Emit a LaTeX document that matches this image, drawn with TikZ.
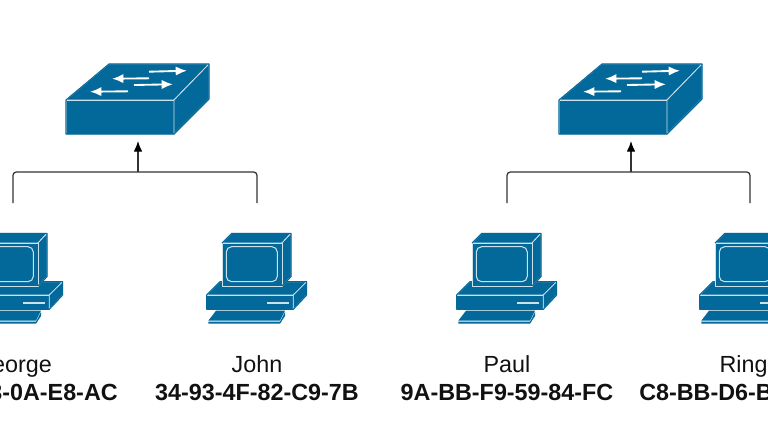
\documentclass[tikz,border=0pt]{standalone}
\usepackage{fontspec}
\setmainfont{Liberation Sans}
\usetikzlibrary{arrows.meta}

\begin{document}
\begin{tikzpicture}[x=0.75pt,y=-0.75pt,
  edgeline/.style={draw=white!80!ciscoblue,line width=0.6pt,line join=round},
  face/.style={fill=ciscoblue,edgeline},
  wire/.style={draw=wire,line width=0.95pt,rounded corners=2.5pt},
  namelabel/.style={font=\fontsize{17.5}{20}\selectfont,text=textblack,anchor=base,inner sep=0pt},
  maclabel/.style={font=\fontsize{17.5}{20}\selectfont\bfseries,text=textblack,anchor=base,inner sep=0pt},
  swarrow/.style={white,line width=1.4pt,-{Latex[length=8.5pt,width=7pt]}},
  pics/switchicon/.style={code={
    \draw[face] (0,100) -- (43,64) -- (143,64) -- (108,100) -- cycle;
    \draw[face] (0,100) rectangle (108,134);
    \draw[face] (108,100) -- (143,64) -- (143,99) -- (108,134) -- cycle;
    % outer edge back in blue, the light lines stay inside only
    \draw[ciscoblue,line width=0.8pt,line join=round] (0,100) -- (43,64) -- (143,64) -- (143,99) -- (108,134) -- (0,134) -- cycle;
    \draw[swarrow] (83,71.7) -- (121,70.7);
    \draw[swarrow] (83,78.3) -- (46,78.7);
    \draw[swarrow] (68,85) -- (107,84.3);
    \draw[swarrow] (62,91.3) -- (24,91.7);
    \coordinate (-bottom) at (72,141);
    \coordinate (-join) at (72,172);
  }},
  pics/pcicon/.style={code={
    % base
    \draw[face] (-50.3,295) -- (-37,281.7) -- (49.7,281.7) -- (36.3,295) -- cycle;
    \draw[face] (-50.3,295) rectangle (36.3,309.3);
    \draw[face] (36.3,295) -- (49.7,281.7) -- (49.7,295) -- (36.3,309.3) -- cycle;
    \draw[ciscoblue,line width=0.8pt,line join=round] (-50.3,295) -- (-37,281.7) -- (49.7,281.7) -- (49.7,295) -- (36.3,309.3) -- (-50.3,309.3) -- cycle;
    \fill[white!80!ciscoblue] (9.7,301.7) rectangle (31.7,304);
    % monitor
    \draw[edgeline,fill=ciscoblue] (-35,243) -- (-25.3,233.3) -- (34,233.3) -- (25,243) -- cycle;
    \draw[edgeline,fill=ciscoblue] (25,243) -- (34,233.3) -- (34,276.7) -- (25,286) -- cycle;
    \draw[face] (-35,243) rectangle (25,286);
    \draw[ciscoblue,line width=0.8pt,line join=round] (-35,243) -- (-25.3,233.3) -- (34,233.3) -- (34,276.7) -- (25,286);
    \draw[edgeline,line width=0.8pt,rounded corners=4pt] (-30.7,246.7) rectangle (20.3,281.7);
    % keyboard
    \fill[ciscoblue] (-41,310.7) -- (28,310.7) -- (23,320.7) -- (-48.7,320.7) -- cycle;
    \fill[ciscoblue] (-48.7,321.7) -- (23,321.7) -- (28,312) -- (28,316) -- (23,323.7) -- (-48.7,323.7) -- cycle;
    \coordinate (-top) at (0,203);
  }}]
\definecolor{ciscoblue}{HTML}{03689A}
\definecolor{wire}{HTML}{333333}
\definecolor{textblack}{HTML}{111111}
\useasboundingbox (0,0) rectangle (768,432);
\clip (0,0) rectangle (768,432);
  \foreach \nm/\pos in {george/13,john/257,paul/507,ringo/750}
  {  \pic (\nm) at (\pos,0) {pcicon};}
  \foreach \nm/\pos in {switcha/66,switchb/559}
  {  \pic (\nm) at (\pos,0) {switchicon};}
\draw[wire] (george-top) |- (switcha-join) -| (john-top);
\draw[wire] (paul-top) |- (switchb-join) -| (ringo-top);
\draw[wire,-{Latex[length=8pt,width=6.5pt,black]}] (switcha-join) -- (switcha-bottom);
\draw[wire,-{Latex[length=8pt,width=6.5pt,black]}] (switchb-join) -- (switchb-bottom);
  \foreach \txt/\pos in {George/13,John/257,Paul/507,Ringo/750}
  {  \node [namelabel] (name\txt) at (\pos,372) {\txt};}
\node [maclabel,anchor=base east] (macgeorge) at (118,400) {3-0A-E8-AC};
\node [maclabel] (macjohn) at (257,400) {34-93-4F-82-C9-7B};
\node [maclabel] (macpaul) at (507,400) {9A-BB-F9-59-84-FC};
\node [maclabel,anchor=base west] (macringo) at (639,400) {C8-BB-D6-B};
\end{tikzpicture}
\end{document}
